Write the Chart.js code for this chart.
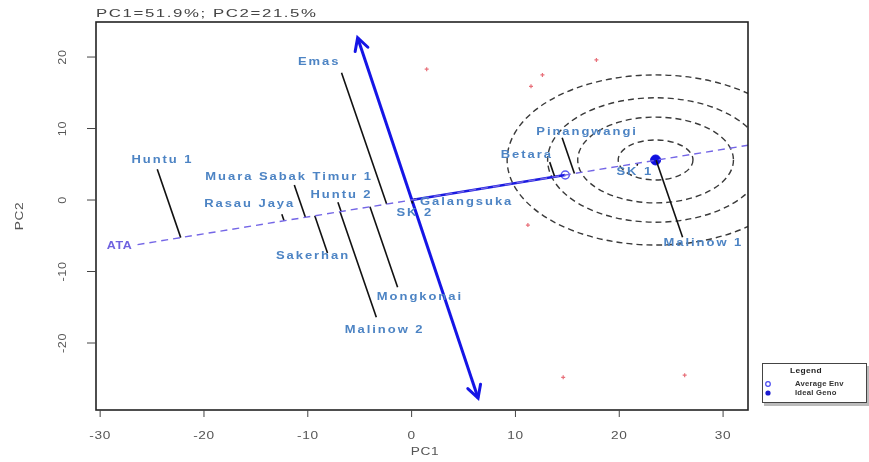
<!DOCTYPE html>
<html>
<head>
<meta charset="utf-8">
<script src="https://cdn.jsdelivr.net/npm/chart.js@4.4.0/dist/chart.umd.min.js"></script>
<style>
html, body { margin: 0; padding: 0; background: #fff; }
</style>
</head>
<body>
<canvas id="myChart" width="869" height="462"></canvas>
<script>
// DATOS

// genotipos (punta de cada linea de proyeccion)
const genotipos = ['Huntu 1', 'Emas', 'Muara Sabak Timur 1', 'Rasau Jaya', 'Huntu 2', 'Sakerhan', 'Malinow 2',
    'Mongkonai', 'SK 2', 'Galangsuka', 'Betara', 'Pinangwangi', 'SK 1', 'Malinow 1'];
const genoX = [-24.5, -6.75, -11.3, -12.5, -7.1, -8.1, -3.4, -1.35, 0.1, 0.3, 13.3, 14.5, 21.8, 26.1];
const genoY = [4.3, 17.8, 2.1, -2.0, -0.3, -7.4, -16.4, -12.2, -0.5, 0.2, 5.3, 8.7, 4.9, -5.2];
// donde va el texto de cada genotipo
const labelX = [-24.0, -8.9, -11.8, -15.6, -6.75, -9.5, -2.6, 0.8, 0.3, 5.3, 11.1, 16.9, 21.5, 28.1];
const labelY = [5.5, 19.3, 3.2, -0.6, 0.7, -7.8, -18.2, -13.6, -1.8, -0.3, 6.2, 9.5, 3.9, -6.0];

// ambientes (puntos rojos)
const ambX = [1.45, 11.5, 12.6, 17.8, 11.2, 14.6, 26.3];
const ambY = [18.3, 15.9, 17.5, 19.6, -3.5, -24.8, -24.5];

// ambiente promedio e ideal
const avgEnv = [14.8, 3.5];
const idealGeno = [23.5, 5.6];

// eje ATA y flecha
const ataX = [-26.4, 34];
const ataY = [-6.24, 8.04];
const flechaX = [-5.2, 6.4];
const flechaY = [22.7, -27.7];

// circulos concentricos (radios en unidades de PC1 / PC2)
const radioX = [3.6, 7.5, 10.4, 14.3];
const radioY = [2.8, 6.0, 8.7, 11.9];

// ejes
const ticksX = [-30, -20, -10, 0, 10, 20, 30];
const ticksY = [-20, -10, 0, 10, 20];
const titulo = 'PC1=51.9%; PC2=21.5%';


const ctx = document.getElementById('myChart');

const azulTexto = '#4d84c4';

// pie de la proyeccion sobre el eje ATA
const largo = Math.hypot(avgEnv[0], avgEnv[1]);
const ux = avgEnv[0] / largo, uy = avgEnv[1] / largo;
const pie = (x, y) => { const d = x * ux + y * uy; return { x: d * ux, y: d * uy }; };

const proyecciones = genotipos.map((g, i) => ({
    data: [{ x: genoX[i], y: genoY[i] }, pie(genoX[i], genoY[i])],
    showLine: true,
    borderColor: '#111',
    borderWidth: 1.6,
    pointRadius: 0,
    clip: 0
}));

function texto(c, str, x, y, font, color, align, sx, spacing) {
    c.save();
    c.translate(x, y);
    c.scale(sx, 1);
    c.font = font;
    c.fillStyle = color;
    c.textAlign = align;
    c.textBaseline = 'middle';
    c.letterSpacing = spacing + 'px';
    c.fillText(str, 0, 0);
    c.restore();
}

const decoraciones = {
    id: 'decoraciones',
    beforeDatasetsDraw(chart) {
        const c = chart.ctx, xs = chart.scales.x, ys = chart.scales.y, a = chart.chartArea;
        c.save();
        c.beginPath();
        c.rect(a.left, a.top, a.right - a.left, a.bottom - a.top);
        c.clip();
        c.strokeStyle = '#3a3a3a';
        c.lineWidth = 1.4;
        c.setLineDash([6, 4]);
        const cx = xs.getPixelForValue(idealGeno[0]), cy = ys.getPixelForValue(idealGeno[1]);
        radioX.forEach((r, i) => {
            const rx = xs.getPixelForValue(idealGeno[0] + r) - cx;
            const ry = cy - ys.getPixelForValue(idealGeno[1] + radioY[i]);
            c.beginPath();
            c.ellipse(cx, cy, rx, ry, 0, 0, Math.PI * 2);
            c.stroke();
        });
        c.restore();
    },
    afterDatasetsDraw(chart) {
        const c = chart.ctx, xs = chart.scales.x, ys = chart.scales.y;
        // puntas de flecha
        const p1 = { x: xs.getPixelForValue(flechaX[0]), y: ys.getPixelForValue(flechaY[0]) };
        const p2 = { x: xs.getPixelForValue(flechaX[1]), y: ys.getPixelForValue(flechaY[1]) };
        c.save();
        c.strokeStyle = '#1515e6';
        c.lineWidth = 3;
        c.lineCap = 'round';
        [[p1, p2], [p2, p1]].forEach(([tip, from]) => {
            const ang = Math.atan2(tip.y - from.y, tip.x - from.x);
            c.beginPath();
            c.moveTo(tip.x - 14 * Math.cos(ang - 0.5), tip.y - 14 * Math.sin(ang - 0.5));
            c.lineTo(tip.x, tip.y);
            c.lineTo(tip.x - 14 * Math.cos(ang + 0.5), tip.y - 14 * Math.sin(ang + 0.5));
            c.stroke();
        });
        c.restore();

        // nombres de genotipos
        genotipos.forEach((g, i) => {
            texto(c, g, xs.getPixelForValue(labelX[i]), ys.getPixelForValue(labelY[i]),
                'bold 10px "Liberation Sans"', azulTexto, 'center', 1.3, 1.5);
        });
        texto(c, 'ATA', xs.getPixelForValue(ataX[0]) - 18, ys.getPixelForValue(ataY[0]) + 2,
            'bold 10px "Liberation Sans"', '#6f62e0', 'center', 1.25, 0.5);
    },
    afterDraw(chart) {
        const c = chart.ctx, xs = chart.scales.x, ys = chart.scales.y, a = chart.chartArea;
        c.save();
        c.strokeStyle = '#222';
        c.lineWidth = 1.6;
        c.strokeRect(a.left, a.top, a.right - a.left, a.bottom - a.top);
        c.lineWidth = 1;
        c.strokeStyle = '#444';
        ticksX.forEach(t => {
            const px = xs.getPixelForValue(t);
            c.beginPath(); c.moveTo(px, a.bottom); c.lineTo(px, a.bottom + 7); c.stroke();
            texto(c, String(t), px, a.bottom + 26, '10.5px "Liberation Sans"', '#555', 'center', 1.3, 0.5);
        });
        ticksY.forEach(t => {
            const py = ys.getPixelForValue(t);
            c.beginPath(); c.moveTo(a.left, py); c.lineTo(a.left - 9, py); c.stroke();
            c.save();
            c.translate(a.left - 33, py);
            c.rotate(-Math.PI / 2);
            texto(c, String(t), 0, 0, '10.5px "Liberation Sans"', '#555', 'center', 1.2, 0.5);
            c.restore();
        });
        texto(c, 'PC1', (a.left + a.right) / 2 + 3, 452, '10.5px "Liberation Sans"', '#555', 'center', 1.3, 0.5);
        c.save();
        c.translate(20, 216);
        c.rotate(-Math.PI / 2);
        texto(c, 'PC2', 0, 0, '10.5px "Liberation Sans"', '#555', 'center', 1.3, 0.5);
        c.restore();
        texto(c, titulo, a.left, 14, '10.5px "Liberation Sans"', '#444', 'left', 1.6, 1);

        // leyenda
        c.fillStyle = '#bbb';
        c.fillRect(764, 366, 105, 40);
        c.fillStyle = '#fff';
        c.fillRect(762, 363, 105, 40);
        c.strokeStyle = '#444';
        c.lineWidth = 1;
        c.strokeRect(762.5, 363.5, 104, 39);
        texto(c, 'Legend', 806, 371, 'bold 7px "Liberation Sans"', '#222', 'center', 1.2, 0.3);
        c.beginPath(); c.arc(768, 384, 2.3, 0, Math.PI * 2);
        c.strokeStyle = '#4a4af0'; c.lineWidth = 1.2; c.stroke();
        c.beginPath(); c.arc(768, 393, 2.6, 0, Math.PI * 2);
        c.fillStyle = '#1a1ad0'; c.fill();
        texto(c, 'Average Env', 795, 384, 'bold 7px "Liberation Sans"', '#333', 'left', 1.1, 0.2);
        texto(c, 'Ideal Geno', 795, 393, 'bold 7px "Liberation Sans"', '#333', 'left', 1.1, 0.2);
        c.restore();
    }
};

const datasets = [
    {
        data: ataX.map((x, i) => ({ x, y: ataY[i] })),
        showLine: true,
        borderColor: '#7466e6',
        borderWidth: 1.4,
        borderDash: [7, 5],
        pointRadius: 0,
        clip: 0
    },
    ...proyecciones,
    {
        data: flechaX.map((x, i) => ({ x, y: flechaY[i] })),
        showLine: true,
        borderColor: '#1515e6',
        borderWidth: 3,
        pointRadius: 0
    },
    {
        data: [{ x: 0, y: 0 }, { x: avgEnv[0], y: avgEnv[1] }],
        showLine: true,
        borderColor: '#1a1ae0',
        borderWidth: 2.5,
        pointRadius: 0
    },
    {
        data: ambX.map((x, i) => ({ x, y: ambY[i] })),
        pointStyle: 'cross',
        pointRadius: 2,
        borderColor: '#e8707a',
        borderWidth: 1.2
    },
    {
        data: [{ x: avgEnv[0], y: avgEnv[1] }],
        pointRadius: 4,
        backgroundColor: '#fff',
        borderColor: '#5a5af0',
        borderWidth: 1.5
    },
    {
        data: [{ x: idealGeno[0], y: idealGeno[1] }],
        pointRadius: 5,
        backgroundColor: '#1010e0',
        borderColor: '#1010e0'
    }
];

// GRAFICA

const myChart = new Chart(ctx, {
    type: 'scatter',
    data: { datasets },
    options: {
        responsive: false,
        animation: false,
        layout: { padding: { left: 96, right: 121, top: 22, bottom: 52 } },
        scales: {
            x: { type: 'linear', min: -30.4, max: 32.4, display: false },
            y: { type: 'linear', min: -29.37, max: 24.9, display: false }
        },
        plugins: { legend: { display: false }, tooltip: { enabled: false } }
    },
    plugins: [decoraciones]
});
</script>
</body>
</html>
